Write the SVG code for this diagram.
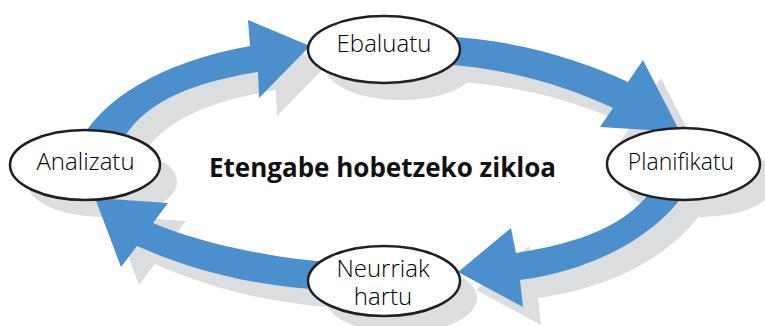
<svg xmlns="http://www.w3.org/2000/svg" width="765" height="326" viewBox="0 0 765 326">
<defs>
<style>
.shadow{fill:#dcdddf}
.arrow{fill:#4b90cd}
.node{fill:#ffffff;stroke:#231f20;stroke-width:2.5}
.label{font-family:"Open Sans","Noto Sans","Liberation Sans",sans-serif;font-size:24px;font-weight:300;fill:#000000;text-anchor:middle}
.title{font-family:"Open Sans","Noto Sans","Liberation Sans",sans-serif;font-size:26px;font-weight:700;fill:#111111;text-anchor:middle}
</style>
<path id="a1" d="M 78,145 C 100,100 160,62 250,46 L 248,20 L 310,46 L 259,98 L 258,72 C 185,84 140,105 120,145 Z"/>
<path id="a2" d="M 440,36 C 520,40 580,60 628,82 L 643,60 L 680,132 L 600,127 L 613,108 C 570,88 510,68 440,64 Z"/>
<path id="a3" d="M 655,185 C 630,225 580,243 516,253 L 511,228 L 458,272 L 523,307 L 520,280 C 595,270 660,235 690,185 Z"/>
<path id="a4" d="M 330,262 C 270,258 200,243 153,223 L 168,203 L 95,198 L 121,267 L 137,246 C 190,270 260,288 330,290 Z"/>
</defs>
<g id="shadows" class="shadow">
<g transform="translate(18,18)">
<use href="#a1"/><use href="#a2"/><use href="#a3"/><use href="#a4"/>
</g>
<g transform="translate(17,17)">
<ellipse cx="384" cy="49.5" rx="76" ry="33.5"/>
<ellipse cx="85" cy="165" rx="75" ry="35"/>
<ellipse cx="683.5" cy="164" rx="76.5" ry="36"/>
<ellipse cx="384" cy="281" rx="76" ry="35"/>
</g>
</g>
<g id="connectors" class="arrow">
<use href="#a1"/><use href="#a2"/><use href="#a3"/><use href="#a4"/>
</g>
<g id="node-ebaluatu">
<ellipse class="node" cx="384" cy="49.5" rx="76" ry="33.5"/>
<text class="label" x="384" y="52">Ebaluatu</text>
</g>
<g id="node-analizatu">
<ellipse class="node" cx="85" cy="165" rx="75" ry="35"/>
<text class="label" x="85.5" y="170">Analizatu</text>
</g>
<g id="node-planifikatu">
<ellipse class="node" cx="683.5" cy="164" rx="76.5" ry="36"/>
<text class="label" x="681" y="170" style="font-size:23px">Planifikatu</text>
</g>
<g id="node-neurriak">
<ellipse class="node" cx="384" cy="281" rx="76" ry="35"/>
<text class="label" x="383" y="277">Neurriak</text>
<text class="label" x="383" y="305">hartu</text>
</g>
<g id="title">
<text class="title" x="382.5" y="177">Etengabe hobetzeko zikloa</text>
</g>
</svg>
